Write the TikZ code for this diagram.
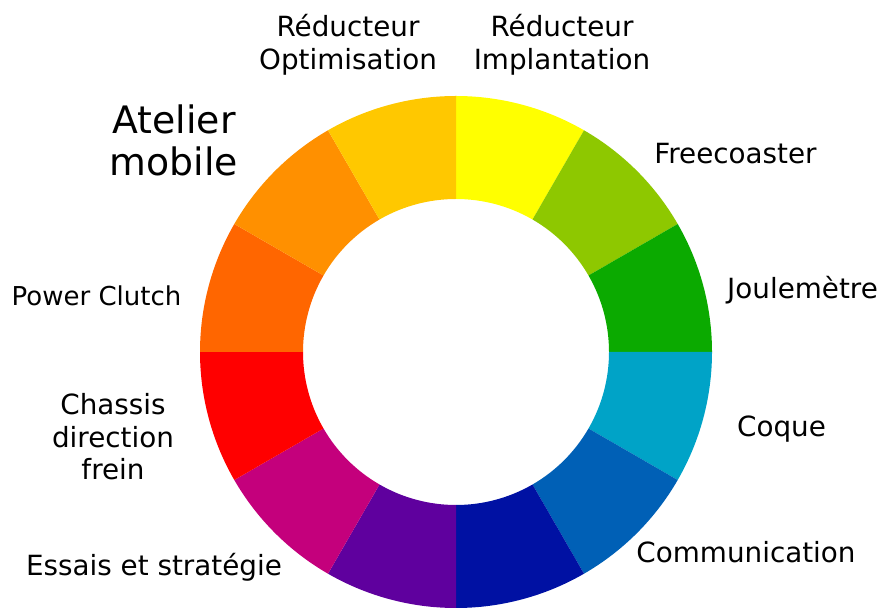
\documentclass[tikz,border=0pt]{standalone}
\usepackage{fontspec}
\setmainfont{DejaVu Sans}
\definecolor{s1}{HTML}{FFFF00}
\definecolor{s2}{HTML}{8EC800}
\definecolor{s3}{HTML}{0BAA00}
\definecolor{s4}{HTML}{00A3C7}
\definecolor{s5}{HTML}{0060B6}
\definecolor{s6}{HTML}{0011A3}
\definecolor{s7}{HTML}{5F009E}
\definecolor{s8}{HTML}{C4007C}
\definecolor{s9}{HTML}{FF0000}
\definecolor{s10}{HTML}{FF6600}
\definecolor{s11}{HTML}{FF9000}
\definecolor{s12}{HTML}{FFC800}
\tikzset{
  lbl/.style={align=center, inner sep=0pt, font=\fontsize{27.8}{32.5}\selectfont},
  smalllbl/.style={align=center, inner sep=0pt, font=\fontsize{26}{32}\selectfont},
  biglbl/.style={align=center, inner sep=0pt, font=\fontsize{37.8}{42}\selectfont}
}
\begin{document}
\begin{tikzpicture}[x=1pt,y=1pt]
\useasboundingbox (0,0) rectangle (882,607);
\begin{scope}[shift={(456,255)}]
\foreach \c [count=\i] in {s1,s2,s3,s4,s5,s6,s7,s8,s9,s10,s11,s12} {
  \pgfmathsetmacro{\a}{90-30*(\i-1)}
  \pgfmathsetmacro{\b}{\a-30}
  \fill[\c] (\a:256) arc[start angle=\a, end angle=\b, radius=256]
     -- (\b:153) arc[start angle=\b, end angle=\a, radius=153] -- cycle;
}
\end{scope}
\node[lbl] (opt) at (348,562) {Réducteur\\Optimisation};
\node[lbl] (impl) at (562,562) {Réducteur\\Implantation};
\node[biglbl] (atel) at (174,467) {Atelier\\mobile};
\node[lbl] (free) at (735.5,453) {Freecoaster};
\node[lbl] (joule) at (802.5,317) {Joulemètre};
\node[lbl] (coque) at (781.5,178) {Coque};
\node[lbl] (comm) at (746,55) {Communication};
\node[lbl] (essais) at (154,40) {Essais et stratégie};
\node[lbl] (chassis) at (113,170) {Chassis\\direction\\frein};
\node[smalllbl] (power) at (96.5,311) {Power Clutch};
\end{tikzpicture}
\end{document}
